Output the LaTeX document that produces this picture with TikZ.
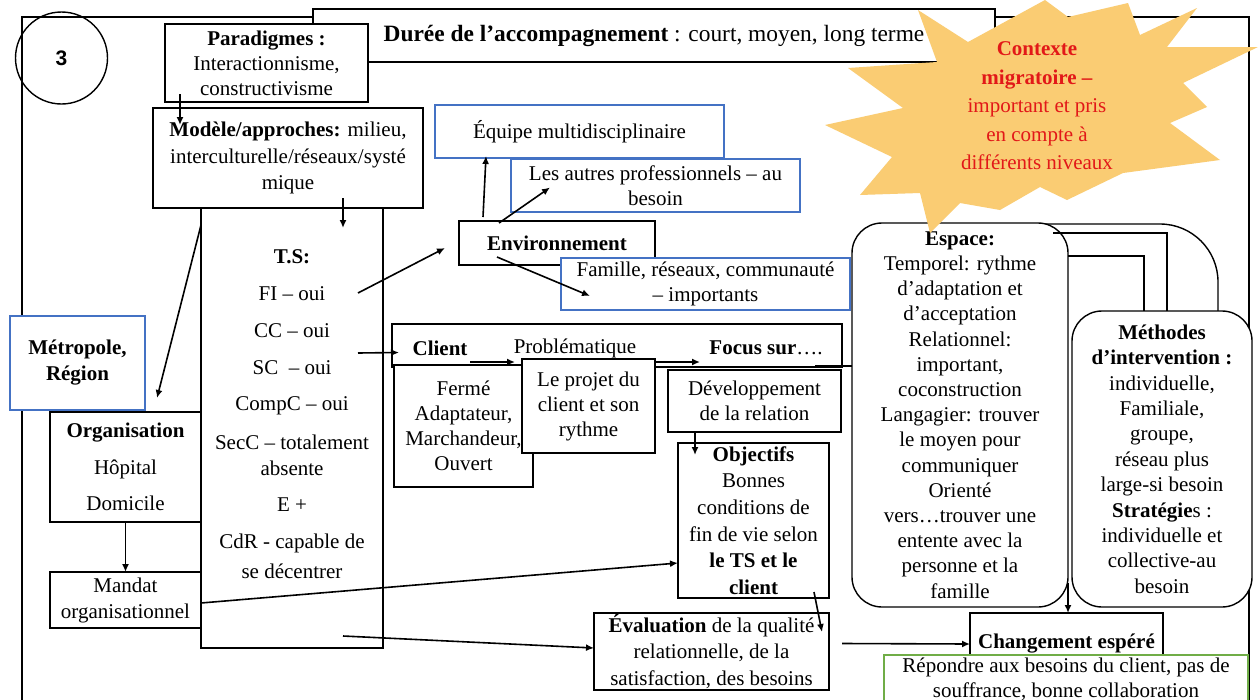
\documentclass[tikz,border=0pt]{standalone}
\usepackage{fontspec}
\setmainfont{Liberation Serif}
\newfontfamily\sansf{Liberation Sans}
\usetikzlibrary{arrows.meta,calc}
\definecolor{blueb}{RGB}{68,114,196}
\definecolor{greenb}{RGB}{112,173,71}
\definecolor{starfill}{RGB}{250,204,115}
\definecolor{stared}{RGB}{226,24,24}
\begin{document}
\begin{tikzpicture}[x=1pt,y=-1pt,
  every node/.style={font=\fontsize{21}{25}\selectfont, inner sep=0pt, outer sep=0pt},
  box/.style={draw, line width=1.4pt, fill=white, align=center},
  bbox/.style={box, draw=blueb},
  gbox/.style={box, draw=greenb},
  rbox/.style={box, rounded corners=30pt},
  txt/.style={align=center},
  arr/.style={line width=1.6pt, -{Latex[length=8pt,width=7pt]}},
  ln/.style={line width=1.4pt}
]
\useasboundingbox (0,0) rectangle (1258,699);
\clip (0,0) rectangle (1258,699);
\fill[white] (0,0) rectangle (1258,699);
% frame
\draw[ln] (22,17) rectangle (1249,730);
\node[draw, circle, line width=1.4pt, minimum size=92, font=\sansf\bfseries\fontsize{21}{24}\selectfont] (c3) at (61.5,58) {3};
% top boxes
\node[box, minimum width=682, minimum height=53, font=\fontsize{23.4}{28}\selectfont] (dur) at (654,35.5) {\textbf{Durée de l’accompagnement} : court, moyen, long terme};
\node[box, minimum width=203, minimum height=78] (par) at (266.5,63) {\textbf{Paradigmes :}\\Interactionnisme,\\constructivisme};
\node[box, minimum width=270, minimum height=100, font=\fontsize{21}{26.5}\selectfont] (mod) at (288,158) {\textbf{Modèle/approches:} milieu,\\interculturelle/réseaux/systé\\mique};
% TS column
\node[box, minimum width=182, minimum height=440] (ts) at (292,428) {};
\foreach \t/\yy [count=\i] in {{\textbf{T.S:}}/257, {FI – oui}/294, {CC – oui}/331, {SC\ \ – oui}/368, {CompC – oui}/406, {SecC – totalement}/442, {absente}/468, {E +}/505, {CdR - capable de}/543, {se décentrer}/571}
  \node[txt] (tsl\i) at (292,\yy) {\t};
% left side
\node[bbox, minimum width=135, minimum height=94, font=\fontsize{21}{26}\selectfont] (met) at (77.5,363) {\textbf{Métropole,}\\\textbf{Région}};
\node[box, minimum width=151, minimum height=110, font=\fontsize{21}{36.5}\selectfont] (org) at (125.5,467) {\textbf{Organisation}\\Hôpital\\Domicile};
\node[box, minimum width=151, minimum height=56, font=\fontsize{21}{26}\selectfont] (man) at (125.5,600) {Mandat\\organisationnel};
% environment
\node[bbox, minimum width=289, minimum height=53] (equ) at (579.5,131.5) {Équipe multidisciplinaire};
\node[bbox, minimum width=289, minimum height=53] (aut) at (655.5,185.5) {Les autres professionnels – au\\besoin};
\node[box, minimum width=196, minimum height=44] (env) at (557,243) {\textbf{Environnement}};
\node[bbox, minimum width=289, minimum height=52] (fam) at (705.5,284) {Famille, réseaux, communauté\\– importants};
% client strip
\node[box, minimum width=450, minimum height=43] (cli) at (617,345.5) {};
\node[txt] (clit) at (440,348) {\textbf{Client}};
\node[txt] (prob) at (575,348) {Problématique};
\node[txt] (foc) at (766,348) {\textbf{Focus sur}….};
\node[box, minimum width=139, minimum height=122] (fer) at (463.5,426) {Fermé\\Adaptateur,\\Marchandeur,\\Ouvert};
\node[box, minimum width=133, minimum height=94] (pro) at (588.5,406) {Le projet du\\client et son\\rythme};
\node[box, minimum width=173, minimum height=62] (dev) at (754.5,401) {Développement\\de la relation};
\node[box, minimum width=151, minimum height=155, font=\fontsize{21}{26.6}\selectfont] (obj) at (753.5,520.5) {\textbf{Objectifs}\\Bonnes\\conditions de\\fin de vie selon\\\textbf{le TS et le}\\\textbf{client}};
\node[box, minimum width=235, minimum height=77, font=\fontsize{21}{26.5}\selectfont] (eva) at (711.5,651.5) {\textbf{Évaluation} de la qualité\\relationnelle, de la\\satisfaction, des besoins};
% right side
\draw[ln, rounded corners=58pt] (1030,224) -- (1218,224) -- (1218,311);
\node[rbox, minimum width=216, minimum height=384, font=\fontsize{21}{25.2}\selectfont] (esp) at (960,415) {\textbf{Espace:}\\Temporel: rythme\\d’adaptation et\\d’acceptation\\Relationnel:\\important,\\coconstruction\\Langagier: trouver\\le moyen pour\\communiquer\\Orienté\\vers…trouver une\\entente avec la\\personne et la\\famille};
\node[rbox, minimum width=180, minimum height=296, font=\fontsize{21}{25.4}\selectfont] (mth) at (1162,459) {\textbf{Méthodes}\\\textbf{d’intervention :}\\individuelle,\\Familiale,\\groupe,\\réseau plus\\large-si besoin\\\textbf{Stratégie}s :\\individuelle et\\collective-au\\besoin};
\draw[ln] ($(esp.north east)+(-15,10)$) -- (1167,233) -- (mth.north -| 1167,0);
\draw[ln] ($(esp.east |- 0,256)$) -- (1144,256) -- (mth.north -| 1144,0);
\node[box, minimum width=193, minimum height=62] (cha) at (1066.5,644) {\textbf{Changement espéré}};
\node[gbox, minimum width=364, minimum height=48] (rep) at (1066,679) {Répondre aux besoins du client, pas de\\souffrance, bonne collaboration};
% connectors
\draw[arr] ($(par.south west)+(15,-8)$) -- ($(mod.north west)+(27,17)$);
\draw[arr] ($(mod.south west)+(190,-10)$) -- ($(ts.north west)+(142,20)$);
\draw[arr] ($(ts.north west)+(0,17)$) -- ($(org.north west)+(107,-14)$);
\draw[arr] (org.south) -- (man.north);
\draw[arr] (man.east |- 0,603) -- (obj.west |- 0,563);
\draw[arr] ($(ts.south west)+(142,-12)$) -- (eva.west |- 0,648);
\draw[arr] ($(ts.north west)+(157,85)$) -- ($(env.west)+(-14,5)$);
\draw[arr] ($(ts.north west)+(157,145)$) -- ($(cli.west)+(7,7)$);
\draw[arr] (470,362) -- (515,362);
\draw[arr] (655,362) -- (700,362);
\draw[ln] ($(cli.south east)+(-27,-1)$) -- (esp.west |- 0,366);
\draw[arr] ($(env.north west)+(24,-4)$) -- ($(equ.south west)+(51,-2)$);
\draw[arr] ($(env.north west)+(40,2)$) -- ($(aut.west)+(39,2)$);
\draw[arr] ($(env.south west)+(38,-8)$) -- ($(fam.west)+(29,12)$);
\draw[arr] ($(dev.south west)+(27,0)$) -- ($(obj.north west)+(17,12)$);
\draw[arr] ($(obj.south east)+(-15,-6)$) -- ($(eva.north east)+(-7,19)$);
\draw[arr] ($(eva.east)+(13,-8)$) -- (cha.west |- 0,644);
\draw[arr] (1068,583) -- (cha.north -| 1068,0);
% star
\fill[starfill] (918,10) -- (968,42) -- (1045,0) -- (1068,17) -- (1128,3) -- (1140,35) -- (1197,8) -- (1167,47) -- (1258,47) -- (1183,83) -- (1207,107) -- (1170,123) -- (1220,160) -- (1123,173) -- (1067,200) -- (1040,187) -- (1000,210) -- (960,203) -- (930,233) -- (920,193) -- (860,195) -- (892,157) -- (825,125) -- (903,108) -- (848,68) -- (937,62) -- cycle;
\node[txt, text=stared, font=\fontsize{21}{28.5}\selectfont] (ctx) at (1037,106) {\textbf{Contexte}\\\textbf{migratoire –}\\important et pris\\en compte à\\différents niveaux};
\end{tikzpicture}
\end{document}
